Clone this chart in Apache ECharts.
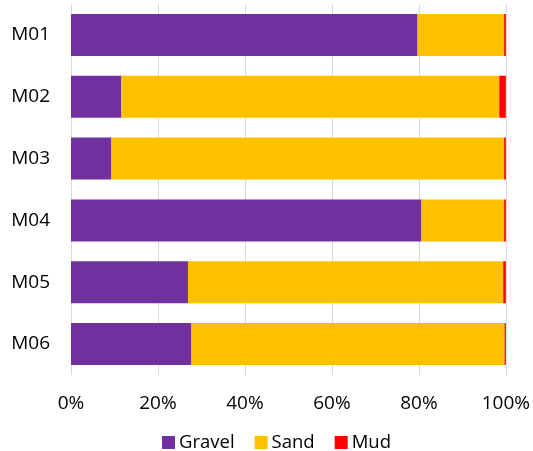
<!DOCTYPE html>
<html>
<head>
<meta charset="utf-8">
<script src="https://cdn.jsdelivr.net/npm/echarts@6/dist/echarts.min.js"></script>
<style>
  html, body { margin: 0; padding: 0; background: #fff; }
  #chart { width: 533px; height: 451px; }
</style>
</head>
<body>
<div id="chart"></div>
<script>
// Sediment composition per sample (% of total)
const samples = ['M01', 'M02', 'M03', 'M04', 'M05', 'M06'];
const gravel = [79.7, 11.6, 9.3, 80.6, 26.9, 27.7];
const sand   = [19.9, 86.9, 90.3, 19.0, 72.5, 72.0];
const mud    = [0.4, 1.5, 0.4, 0.4, 0.6, 0.3];
const seriesNames = ['Gravel', 'Sand', 'Mud'];
const seriesColors = ['#7030A0', '#FFC000', '#FF0000'];

const FONT = '"Open Sans", "Liberation Sans", sans-serif';
const chart = echarts.init(document.getElementById('chart'), null, { renderer: 'canvas' });

const values = [gravel, sand, mud];
chart.setOption({
  animation: false,
  textStyle: { fontFamily: FONT },
  grid: { left: 71, right: 26, top: 4, bottom: 76 },
  legend: {
    top: 428,
    left: 157,
    itemWidth: 13,
    itemHeight: 13,
    itemGap: 20,
    icon: 'rect',
    textStyle: { fontFamily: FONT, fontSize: 18.5, color: '#000', padding: [0, 0, 0, -1] },
    data: seriesNames
  },
  xAxis: {
    type: 'value',
    min: 0,
    max: 100,
    interval: 20,
    axisLine: { show: false },
    axisTick: { show: false },
    splitLine: { show: true, lineStyle: { color: '#d9d9d9', width: 1 } },
    axisLabel: {
      formatter: v => v + '%',
      fontFamily: FONT,
      fontSize: 19,
      color: '#000',
      margin: 19
    }
  },
  yAxis: {
    type: 'category',
    inverse: true,
    data: samples,
    axisLine: { show: false },
    axisTick: { show: false },
    axisLabel: { fontFamily: FONT, fontSize: 19, color: '#000', margin: 21 }
  },
  series: seriesNames.map((name, i) => ({
    name,
    type: 'bar',
    stack: 'total',
    barCategoryGap: '32%',
    itemStyle: { color: seriesColors[i] },
    data: values[i]
  }))
});
</script>
</body>
</html>
